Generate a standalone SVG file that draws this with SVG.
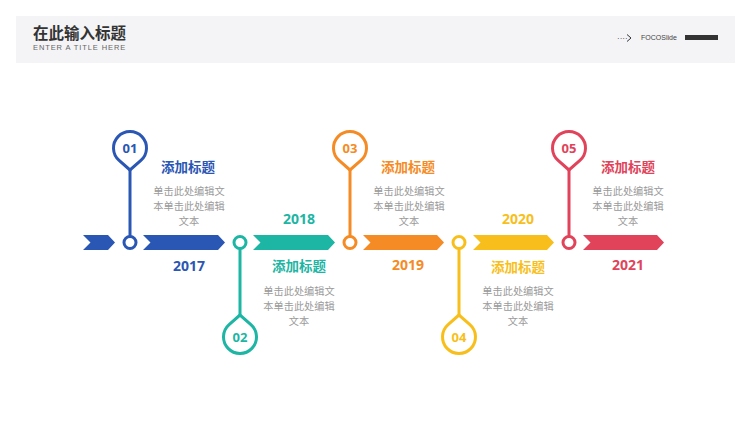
<svg xmlns="http://www.w3.org/2000/svg" width="750" height="422" viewBox="0 0 750 422">
<style>
.cjk{font-family:"Noto Sans CJK SC","Noto Sans",sans-serif}
.title{font-size:13.5px;font-weight:700;text-anchor:middle}
.body{font-size:10.2px;fill:#9a9a9a;text-anchor:middle}
.year{font-family:"Open Sans","Noto Sans",sans-serif;font-size:14px;font-weight:700;text-anchor:middle}
.num{font-family:"Open Sans","Noto Sans",sans-serif;font-size:13px;font-weight:700;text-anchor:middle}
.drop{fill:#fff;stroke-width:3}
.ring{fill:#fff;stroke-width:3}
.stem{stroke-width:3}
</style>
<rect width="750" height="422" fill="#fff"/>
<g id="header">
<rect x="16" y="16" width="719" height="47" fill="#f4f4f6"/>
<text x="33" y="39" class="cjk" font-size="15.5" font-weight="700" fill="#333">在此输入标题</text>
<text x="33" y="50" font-family="'Liberation Sans',sans-serif" font-size="7.5" letter-spacing="0.9" fill="#666">ENTER A TITLE HERE</text>
<text x="617" y="41" font-family="'Liberation Sans',sans-serif" font-size="8" fill="#333">····</text>
<path d="M627 34.5 L631 38 L627 41.5" fill="none" stroke="#333" stroke-width="1"/>
<text x="641" y="40" font-family="'Liberation Sans',sans-serif" font-size="7" fill="#444">FOCOSlide</text>
<rect x="685" y="35" width="33" height="5" fill="#333"/>
</g>
<g id="connectors">
<polygon points="83,235 108,235 115,242.5 108,250 83,250 90.5,242.5" fill="#2a56b4"/>
<polygon points="143,235 218,235 225,242.5 218,250 143,250 150.5,242.5" fill="#2a56b4"/>
<polygon points="253,235 328,235 335,242.5 328,250 253,250 260.5,242.5" fill="#1db5a3"/>
<polygon points="363,235 437,235 444,242.5 437,250 363,250 370.5,242.5" fill="#f58b25"/>
<polygon points="473,235 547,235 554,242.5 547,250 473,250 480.5,242.5" fill="#f8bf1c"/>
<polygon points="583,235 657,235 664,242.5 657,250 583,250 590.5,242.5" fill="#e0435a"/>
</g>
<g id="node1" stroke="#2a56b4">
<line class="stem" x1="130" y1="169" x2="130" y2="236"/>
<path class="drop" d="M130 170 L119.1 160.4 A16.5 16.5 0 1 1 140.9 160.4 Z"/>
<circle class="ring" cx="130" cy="242.5" r="6"/>
<text x="130" y="152.5" class="num" fill="#2a56b4" stroke="none">01</text>
<text x="188" y="172" class="cjk title" fill="#2a56b4" stroke="none">添加标题</text>
<g class="cjk body" stroke="none"><text x="189" y="195">单击此处编辑文</text><text x="189" y="210">本单击此处编辑</text><text x="189" y="225">文本</text></g>
<text x="189" y="271" class="year" fill="#2a56b4" stroke="none">2017</text>
</g>
<g id="node2" stroke="#1db5a3">
<line class="stem" x1="240" y1="249" x2="240" y2="316"/>
<path class="drop" d="M240 315 L229.1 324.6 A16.5 16.5 0 1 0 250.9 324.6 Z"/>
<circle class="ring" cx="240" cy="242.5" r="6"/>
<text x="240" y="342" class="num" fill="#1db5a3" stroke="none">02</text>
<text x="299" y="224" class="year" fill="#1db5a3" stroke="none">2018</text>
<text x="299" y="271" class="cjk title" fill="#1db5a3" stroke="none">添加标题</text>
<g class="cjk body" stroke="none"><text x="299" y="295">单击此处编辑文</text><text x="299" y="310">本单击此处编辑</text><text x="299" y="325">文本</text></g>
</g>
<g id="node3" stroke="#f58b25">
<line class="stem" x1="350" y1="169" x2="350" y2="236"/>
<path class="drop" d="M350 170 L339.1 160.4 A16.5 16.5 0 1 1 360.9 160.4 Z"/>
<circle class="ring" cx="350" cy="242.5" r="6"/>
<text x="350" y="152.5" class="num" fill="#f58b25" stroke="none">03</text>
<text x="408" y="172" class="cjk title" fill="#f58b25" stroke="none">添加标题</text>
<g class="cjk body" stroke="none"><text x="409" y="195">单击此处编辑文</text><text x="409" y="210">本单击此处编辑</text><text x="409" y="225">文本</text></g>
<text x="408" y="270" class="year" fill="#f58b25" stroke="none">2019</text>
</g>
<g id="node4" stroke="#f8bf1c">
<line class="stem" x1="459" y1="249" x2="459" y2="316"/>
<path class="drop" d="M459 315 L448.1 324.6 A16.5 16.5 0 1 0 469.9 324.6 Z"/>
<circle class="ring" cx="459" cy="242.5" r="6"/>
<text x="459" y="342" class="num" fill="#f8bf1c" stroke="none">04</text>
<text x="518" y="224" class="year" fill="#f8bf1c" stroke="none">2020</text>
<text x="518" y="272" class="cjk title" fill="#f8bf1c" stroke="none">添加标题</text>
<g class="cjk body" stroke="none"><text x="518" y="295">单击此处编辑文</text><text x="518" y="310">本单击此处编辑</text><text x="518" y="325">文本</text></g>
</g>
<g id="node5" stroke="#e0435a">
<line class="stem" x1="569" y1="169" x2="569" y2="236"/>
<path class="drop" d="M569 170 L558.1 160.4 A16.5 16.5 0 1 1 579.9 160.4 Z"/>
<circle class="ring" cx="569" cy="242.5" r="6"/>
<text x="569" y="152.5" class="num" fill="#e0435a" stroke="none">05</text>
<text x="628" y="172" class="cjk title" fill="#e0435a" stroke="none">添加标题</text>
<g class="cjk body" stroke="none"><text x="628" y="195">单击此处编辑文</text><text x="628" y="210">本单击此处编辑</text><text x="628" y="225">文本</text></g>
<text x="628" y="270" class="year" fill="#e0435a" stroke="none">2021</text>
</g>
</svg>
